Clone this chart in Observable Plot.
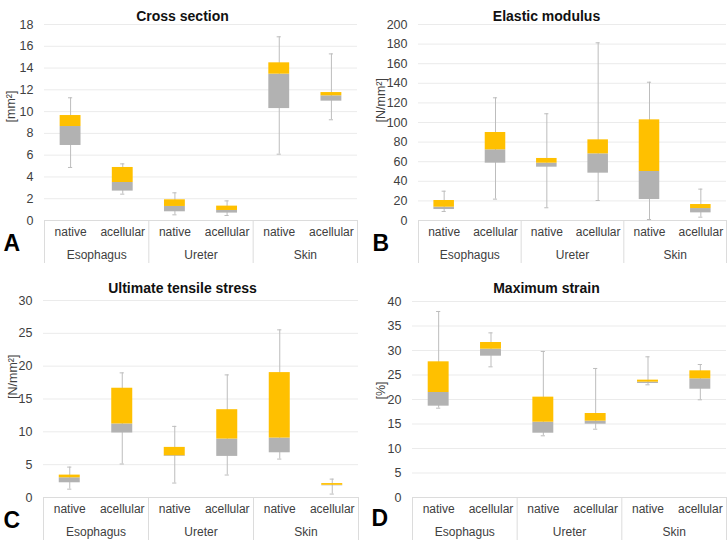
<!DOCTYPE html>
<html>
<head>
<meta charset="utf-8">
<script src="https://cdn.jsdelivr.net/npm/d3@7"></script>
<script src="https://cdn.jsdelivr.net/npm/@observablehq/plot@0.6"></script>
<style>
  html, body { margin: 0; padding: 0; background: #fff; }
  #wrap { position: relative; width: 728px; height: 544px; overflow: hidden; background: #fff; }
  .panel { position: absolute; width: 364px; height: 272px; }
  .panel svg { display: block; }
</style>
</head>
<body>
<div id="wrap"></div>
<script>
// ---- categories ----
const tissues = ["Esophagus", "Ureter", "Skin"];
const conditions = ["native", "acellular"];

// ---- A: Cross section [mm²] ----
const csMin = [4.87, 2.42, 0.52, 0.46, 6.09, 9.25];
const csQ1  = [6.89, 2.70, 0.80, 0.68, 10.28, 10.96];
const csMed = [8.63, 3.49, 1.29, 0.92, 13.44, 11.45];
const csQ3  = [9.64, 4.87, 1.90, 1.32, 14.48, 11.75];
const csMax = [11.27, 5.20, 2.54, 1.80, 16.87, 15.30];
const csTicks = [0, 2, 4, 6, 8, 10, 12, 14, 16, 18];

// ---- B: Elastic modulus [N/mm²] ----
const emMin = [9.2, 21.8, 13.0, 20.4, 1.0, 3.4];
const emQ1  = [11.2, 58.5, 54.4, 48.3, 21.4, 7.8];
const emMed = [13.6, 72.1, 58.5, 68.0, 50.0, 12.2];
const emQ3  = [20.4, 89.8, 63.3, 82.3, 102.7, 16.3];
const emMax = [29.9, 125.2, 108.9, 181.3, 141.1, 32.0];
const emTicks = [0, 20, 40, 60, 80, 100, 120, 140, 160, 180, 200];

// ---- C: Ultimate tensile stress [N/mm²] ----
const utsMin = [1.27, 5.10, 2.20, 3.42, 5.85, 0.52];
const utsQ1  = [2.24, 9.82, 6.25, 6.26, 6.81, 1.78];
const utsMed = [3.00, 11.20, 6.36, 8.90, 9.05, 1.86];
const utsQ3  = [3.41, 16.64, 7.63, 13.37, 19.02, 2.12];
const utsMax = [4.63, 18.98, 10.83, 18.67, 25.53, 2.80];
const utsTicks = [0, 5, 10, 15, 20, 25, 30];

// ---- D: Maximum strain [%] ----
const msMin = [18.23, 26.67, 12.59, 13.94, 23.00, 19.94];
const msQ1  = [18.64, 28.84, 13.12, 14.96, 23.27, 22.10];
const msMed = [21.43, 30.27, 15.37, 15.58, 23.54, 24.22];
const msQ3  = [27.69, 31.63, 20.48, 17.14, 23.95, 25.85];
const msMax = [37.96, 33.60, 29.80, 26.33, 28.71, 27.14];
const msTicks = [0, 5, 10, 15, 20, 25, 30, 35, 40];

const FONT = "'Liberation Sans', Arial, Helvetica, sans-serif";
const GOLD = "#ffc000";
const GRAY = "#b2b2b2";
const WHISK = "#bdbdbd";
const TXT = "#404040";

function panel(cfg) {
  const {title, letter, unit, ticks, mins, q1s, meds, q3s, maxs, m, ylabDx, letterDx, letterDy} = cfg;
  const W = 364, H = 272;
  const rows = mins.map((v, i) => ({
    i,
    tissue: tissues[Math.floor(i / 2)],
    cond: conditions[i % 2],
    min: v, q1: q1s[i], med: meds[i], q3: q3s[i], max: maxs[i]
  }));
  const groups = tissues.map((t, k) => ({t, k}));
  const bounds = d3.range(0, rows.length + 1, 2);
  const frameCx = m.left + (W - m.left - m.right) / 2;
  const yMax = ticks[ticks.length - 1];
  return Plot.plot({
    width: W, height: H,
    marginLeft: m.left, marginRight: m.right, marginTop: m.top, marginBottom: m.bottom,
    style: {fontFamily: FONT, background: "transparent", overflow: "visible"},
    x: {domain: [0, rows.length], axis: null},
    y: {domain: [0, yMax], axis: null},
    marks: [
      Plot.ruleY(ticks.filter(t => t > 0), {stroke: "#ebebeb", strokeWidth: 1}),
      Plot.ruleY([0], {stroke: "#dcdcdc", strokeWidth: 1}),
      Plot.axisY({ticks, tickSize: 0, tickPadding: 11, fontSize: 12.5, fill: TXT, label: null, fontFamily: FONT}),
      // separators below the axis
      Plot.ruleX(bounds, {x: d => d, y1: () => 0, y2: () => 0, insetBottom: -43, stroke: "#dcdcdc"}),
      // whiskers
      Plot.ruleX(rows, {x: d => d.i + 0.5, y1: "min", y2: "max", stroke: WHISK, strokeWidth: 1}),
      Plot.ruleY(rows, {y: "max", x1: d => d.i + 0.46, x2: d => d.i + 0.54, stroke: WHISK}),
      Plot.ruleY(rows, {y: "min", x1: d => d.i + 0.46, x2: d => d.i + 0.54, stroke: WHISK}),
      // boxes
      Plot.rectY(rows, {x1: d => d.i + 0.3, x2: d => d.i + 0.7, y1: "q1", y2: "med", fill: GRAY}),
      Plot.rectY(rows, {x1: d => d.i + 0.3, x2: d => d.i + 0.7, y1: "med", y2: "q3", fill: GOLD}),
      // category labels
      Plot.text(rows, {x: d => d.i + 0.5, frameAnchor: "bottom", dy: 15, text: "cond", fontSize: 12, fill: TXT, fontFamily: FONT}),
      Plot.text(groups, {x: d => 2 * d.k + 1, frameAnchor: "bottom", dy: 38, text: "t", fontSize: 12, fill: TXT, fontFamily: FONT}),
      // title
      Plot.text([title], {frameAnchor: "top", dx: W / 2 - frameCx, dy: -m.top + 11, text: d => d, fontSize: 14, fontWeight: "bold", fill: "#111", fontFamily: FONT}),
      // y label
      Plot.text([unit], {frameAnchor: "left", dx: ylabDx, rotate: -90, text: d => d, fontSize: 12.5, fill: TXT, fontFamily: FONT}),
      // panel letter
      Plot.text([letter], {frameAnchor: "bottom-left", dx: letterDx, dy: letterDy, textAnchor: "start", text: d => d, fontSize: 23, fontWeight: "bold", fill: "#000", fontFamily: FONT})
    ]
  });
}

const wrap = document.getElementById("wrap");
const specs = [
  {pos: [0, 0], title: "Cross section", letter: "A", unit: "[mm²]", ticks: csTicks,
   mins: csMin, q1s: csQ1, meds: csMed, q3s: csQ3, maxs: csMax,
   m: {left: 44, right: 7, top: 24, bottom: 52}, ylabDx: -34, letterDx: -41, letterDy: 30},
  {pos: [364, 0], title: "Elastic modulus", letter: "B", unit: "[N/mm²]", ticks: emTicks,
   mins: emMin, q1s: emQ1, meds: emMed, q3s: emQ3, maxs: emMax,
   m: {left: 54, right: 2, top: 24, bottom: 52}, ylabDx: -38, letterDx: -46, letterDy: 30},
  {pos: [0, 272], title: "Ultimate tensile stress", letter: "C", unit: "[N/mm²]", ticks: utsTicks,
   mins: utsMin, q1s: utsQ1, meds: utsMed, q3s: utsQ3, maxs: utsMax,
   m: {left: 43, right: 6, top: 28, bottom: 47}, ylabDx: -31, letterDx: -40, letterDy: 30},
  {pos: [364, 272], title: "Maximum strain", letter: "D", unit: "[%]", ticks: msTicks,
   mins: msMin, q1s: msQ1, meds: msMed, q3s: msQ3, maxs: msMax,
   m: {left: 48, right: 2, top: 29, bottom: 47}, ylabDx: -32, letterDx: -41, letterDy: 28}
];
for (const s of specs) {
  const div = document.createElement("div");
  div.className = "panel";
  div.style.left = s.pos[0] + "px";
  div.style.top = s.pos[1] + "px";
  div.appendChild(panel(s));
  wrap.appendChild(div);
}
</script>
</body>
</html>
